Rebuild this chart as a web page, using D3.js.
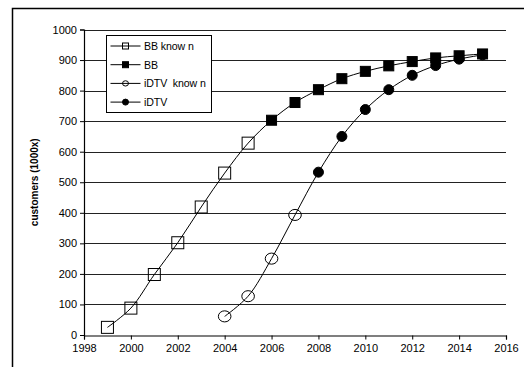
<!DOCTYPE html>
<html>
<head>
<meta charset="utf-8">
<script src="https://cdn.jsdelivr.net/npm/d3@7"></script>
<style>
  html, body { margin: 0; padding: 0; background: #fff; }
  text { font-family: "Liberation Sans", Arial, sans-serif; fill: #000; }
</style>
</head>
<body>
<div id="chart"></div>
<script>
// Series values (customers x1000)
const bbKnownYears = [1999, 2000, 2001, 2002, 2003, 2004, 2005];
const bbKnownValues = [25, 88, 198, 302, 419, 530, 628];
const bbYears = [2006, 2007, 2008, 2009, 2010, 2011, 2012, 2013, 2014, 2015];
const bbValues = [703, 761, 803, 839, 863, 881, 895, 907, 914, 920];
const idtvKnownYears = [2004, 2005, 2006, 2007];
const idtvKnownValues = [61, 127, 250, 393];
const idtvYears = [2008, 2009, 2010, 2011, 2012, 2013, 2014, 2015];
const idtvValues = [533, 650, 738, 803, 850, 882, 903, 917];

const xTicks = [1998, 2000, 2002, 2004, 2006, 2008, 2010, 2012, 2014, 2016];
const yTicks = [0, 100, 200, 300, 400, 500, 600, 700, 800, 900, 1000];
const legendLabels = ['BB know n', 'BB', 'iDTV  know n', 'iDTV'];

const width = 524, height = 367;
const margin = { top: 29.5, right: 18, bottom: 32, left: 84 };

const svg = d3.select('#chart').append('svg')
    .attr('width', width)
    .attr('height', height);

// frame (only top and left edges show in the crop)
svg.append('path')
    .attr('d', `M12.5,${height} V8.5 H${width}`)
    .style('fill', 'none')
    .style('stroke', '#000')
    .style('stroke-width', 1.5);

const x = d3.scaleLinear().domain([1998, 2016]).range([margin.left, width - margin.right]);
const y = d3.scaleLinear().domain([0, 1000]).range([height - margin.bottom, margin.top]);

// gridlines
svg.append('g')
    .selectAll('line')
    .data(yTicks.filter(d => d > 0))
    .join('line')
    .attr('x1', x(1998))
    .attr('x2', x(2016))
    .attr('y1', d => Math.round(y(d)) + 0.5)
    .attr('y2', d => Math.round(y(d)) + 0.5)
    .style('stroke', '#222')
    .style('stroke-width', 1);

// axes
const yAxis = svg.append('g')
    .attr('transform', `translate(${margin.left},0)`)
    .call(d3.axisLeft(y).tickValues(yTicks).tickFormat(d3.format('d')).tickSize(4).tickPadding(3));
const xAxis = svg.append('g')
    .attr('transform', `translate(0,${Math.round(y(0)) + 0.5})`)
    .call(d3.axisBottom(x).tickValues(xTicks).tickFormat(d3.format('d')).tickSize(4).tickPadding(5));
[xAxis, yAxis].forEach(a => {
    a.select('.domain').style('stroke', '#000').style('stroke-width', 1.2);
    a.selectAll('.tick line').style('stroke', '#000');
    a.selectAll('text').style('font-size', '11px').style('font-family', '"Liberation Sans", Arial, sans-serif');
});

// y label
svg.append('text')
    .attr('transform', `translate(38,${(y(0) + y(1000)) / 2}) rotate(-90)`)
    .attr('text-anchor', 'middle')
    .style('font-size', '10px')
    .style('font-weight', 'bold')
    .text('customers (1000x)');

// lines (known + forecast joined)
const line = d3.line()
    .x(d => x(d[0]))
    .y(d => y(d[1]))
    .curve(d3.curveCatmullRom.alpha(0.5));

const bbAll = bbKnownYears.map((t, i) => [t, bbKnownValues[i]])
    .concat(bbYears.map((t, i) => [t, bbValues[i]]));
const idtvAll = idtvKnownYears.map((t, i) => [t, idtvKnownValues[i]])
    .concat(idtvYears.map((t, i) => [t, idtvValues[i]]));

[bbAll, idtvAll].forEach(data => {
    svg.append('path')
        .datum(data)
        .attr('d', line)
        .style('fill', 'none')
        .style('stroke', '#000')
        .style('stroke-width', 1);
});

// markers
function square(g, cx, cy, s, filled) {
    g.append('rect')
        .attr('x', cx - s / 2).attr('y', cy - s / 2)
        .attr('width', s).attr('height', s)
        .style('fill', filled ? '#000' : 'none')
        .style('stroke', '#000')
        .style('stroke-width', 1);
}
function circle(g, cx, cy, r, filled) {
    g.append('ellipse')
        .attr('cx', cx).attr('cy', cy)
        .attr('rx', r).attr('ry', filled ? r : r * 0.88)
        .style('fill', filled ? '#000' : 'none')
        .style('stroke', '#000')
        .style('stroke-width', 1);
}

const marks = svg.append('g');
bbKnownYears.forEach((t, i) => square(marks, x(t), y(bbKnownValues[i]), 12, false));
idtvKnownYears.forEach((t, i) => circle(marks, x(t), y(idtvKnownValues[i]), 6.3, false));
idtvYears.forEach((t, i) => circle(marks, x(t), y(idtvValues[i]), 5, true));
bbYears.forEach((t, i) => square(marks, x(t), y(bbValues[i]), 10, true));

// legend
const legend = svg.append('g').attr('transform', 'translate(106.5,35.5)');
legend.append('rect')
    .attr('width', 105).attr('height', 77)
    .style('fill', '#fff')
    .style('stroke', '#000')
    .style('stroke-width', 1);
legendLabels.forEach((label, i) => {
    const cy = 10.5 + i * 18.7;
    const row = legend.append('g');
    row.append('line')
        .attr('x1', 4).attr('x2', 34)
        .attr('y1', cy).attr('y2', cy)
        .style('stroke', '#000');
    if (i === 0) square(row, 19, cy, 6, false);
    if (i === 1) square(row, 19, cy, 6, true);
    if (i === 2) circle(row, 19, cy, 3, false);
    if (i === 3) circle(row, 19, cy, 3, true);
    row.append('text')
        .attr('x', 37.5).attr('y', cy + 4)
        .style('font-size', '10.6px')
        .style('white-space', 'pre')
        .style('letter-spacing', '-0.1px')
        .text(label);
});
</script>
</body>
</html>
